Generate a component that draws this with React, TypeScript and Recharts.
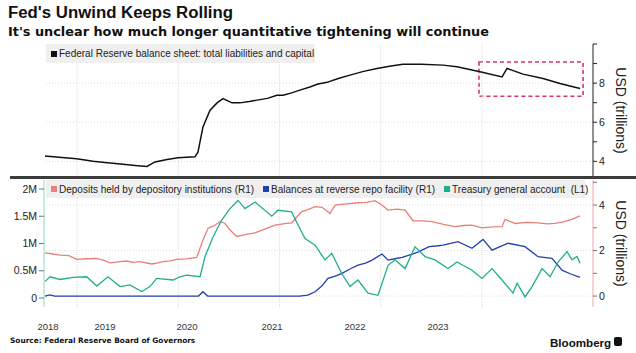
import React from 'react';
import { LineChart, Line, XAxis, YAxis, ReferenceLine, ReferenceArea, Legend } from 'recharts';

// ---------- axes / labels ----------
const X_DOMAIN: [number, number] = [2018.674, 2024.096];
const yearStarts = [2019, 2020, 2021, 2022, 2023];
const yearLabels = ['2018', '2019', '2020', '2021', '2022', '2023'];
const yearLabelPositions = [2018.714, 2019.277, 2020.086, 2020.926, 2021.746, 2022.565];

const topTicks = [4, 5, 6, 7, 8, 9, 10];
const topGrid = [4, 6, 8];
const bottomLeftTicks = [0, 0.5, 1, 1.5, 2];
const bottomRightTicks = [0, 1, 2, 3, 4, 5];
const bottomGrid = [0, 2, 4];

// highlight box (fractional year, trillions)
const highlightX = [2022.97, 2023.998];
const highlightY = [7.33, 9.08];

// ---------- series names ----------
const balanceName = 'Federal Reserve balance sheet: total liabilities and capital';
const depositName = 'Deposits held by depository institutions (R1)';
const rrpName = 'Balances at reverse repo facility (R1)';
const tgaName = 'Treasury general account  (L1)';
const legendOrder = [balanceName, depositName, rrpName, tgaName];

// ---------- Fed balance sheet (USD trillions) ----------
const balanceDates = [2018.684, 2018.85, 2018.997, 2019.158, 2019.3, 2019.454, 2019.6, 2019.691, 2019.77, 2019.889, 2019.998,
  2020.165, 2020.195, 2020.244, 2020.314, 2020.383, 2020.442, 2020.531, 2020.61, 2020.7, 2020.778, 2020.88, 2020.975, 2021.035,
  2021.12, 2021.202, 2021.3, 2021.38, 2021.469, 2021.58, 2021.696, 2021.83, 2021.963, 2022.1, 2022.22, 2022.4, 2022.615, 2022.753,
  2022.98, 2023.198, 2023.247, 2023.405, 2023.602, 2023.77, 2023.968];
const balanceValues = [4.27, 4.2, 4.13, 4.0, 3.93, 3.85, 3.78, 3.74, 3.97, 4.09, 4.19,
  4.23, 4.48, 5.76, 6.62, 6.99, 7.21, 6.99, 6.99, 7.06, 7.13, 7.22, 7.38, 7.38,
  7.5, 7.64, 7.8, 7.95, 8.04, 8.24, 8.41, 8.6, 8.75, 8.88, 8.97, 8.96, 8.92, 8.84,
  8.58, 8.32, 8.75, 8.46, 8.24, 7.98, 7.73];

// ---------- Deposits held by depository institutions (USD trillions, R1) ----------
const depositDates = [2018.684, 2018.75, 2018.832, 2018.92, 2018.997, 2019.1, 2019.195, 2019.26, 2019.326, 2019.4, 2019.491, 2019.56,
  2019.622, 2019.738, 2019.8, 2019.849, 2019.92, 2019.985, 2020.08, 2020.182, 2020.244, 2020.294, 2020.35, 2020.412, 2020.46,
  2020.511, 2020.577, 2020.66, 2020.758, 2020.86, 2020.956, 2021.05, 2021.121, 2021.219, 2021.28, 2021.351, 2021.42, 2021.499,
  2021.548, 2021.66, 2021.775, 2021.86, 2021.943, 2022.01, 2022.072, 2022.16, 2022.24, 2022.319, 2022.42, 2022.506, 2022.62,
  2022.733, 2022.82, 2022.901, 2023.0, 2023.1, 2023.198, 2023.227, 2023.326, 2023.44, 2023.553, 2023.64, 2023.721, 2023.8,
  2023.889, 2023.968];
const depositValues = [1.9, 1.86, 1.8, 1.78, 1.61, 1.64, 1.66, 1.58, 1.46, 1.5, 1.54, 1.48,
  1.51, 1.41, 1.46, 1.51, 1.55, 1.61, 1.63, 1.7, 2.46, 2.98, 3.08, 3.27, 3.2,
  2.9, 2.62, 2.7, 2.78, 2.95, 3.12, 3.18, 3.22, 3.71, 3.8, 3.93, 3.9, 3.63,
  4.0, 4.05, 4.1, 4.12, 4.19, 4.0, 3.78, 3.82, 3.78, 3.31, 3.3, 3.27, 3.15,
  3.05, 3.1, 3.12, 3.0, 3.04, 3.05, 3.37, 3.19, 3.24, 3.22, 3.17, 3.19, 3.26,
  3.37, 3.52];

// ---------- Balances at reverse repo facility (USD trillions, R1) ----------
const rrpDates = [2018.684, 2018.73, 2018.78, 2019.5, 2020.2, 2020.244, 2020.29, 2021.2, 2021.28, 2021.351, 2021.42, 2021.479,
  2021.55, 2021.617, 2021.7, 2021.775, 2021.85, 2021.914, 2022.012, 2022.072, 2022.14, 2022.21, 2022.319, 2022.378, 2022.477,
  2022.55, 2022.615, 2022.763, 2022.901, 2023.01, 2023.099, 2023.257, 2023.425, 2023.553, 2023.691, 2023.79, 2023.87, 2023.968];
const rrpValues = [0.0, 0.05, 0.0, 0.0, 0.0, 0.19, 0.0, 0.0, 0.04, 0.19, 0.45, 0.78,
  0.88, 1.0, 1.2, 1.36, 1.45, 1.58, 1.85, 1.58, 1.64, 1.7, 1.85, 1.95, 2.17,
  2.2, 2.24, 2.39, 2.1, 2.49, 2.02, 2.32, 2.17, 1.73, 1.66, 1.14, 0.98, 0.82];

// ---------- Treasury general account (USD millions, L1) ----------
const tgaDates = [2018.684, 2018.733, 2018.832, 2018.96, 2019.096, 2019.195, 2019.306, 2019.425, 2019.523, 2019.639, 2019.721,
  2019.787, 2019.948, 2020.017, 2020.083, 2020.215, 2020.264, 2020.343, 2020.429, 2020.511, 2020.59, 2020.659, 2020.758,
  2020.923, 2020.985, 2021.12, 2021.183, 2021.252, 2021.351, 2021.449, 2021.516, 2021.614, 2021.696, 2021.775, 2021.874,
  2021.973, 2022.072, 2022.141, 2022.24, 2022.338, 2022.437, 2022.536, 2022.664, 2022.753, 2022.901, 2023.0, 2023.099,
  2023.198, 2023.306, 2023.346, 2023.425, 2023.494, 2023.593, 2023.672, 2023.751, 2023.84, 2023.889, 2023.938, 2023.968];
const tgaValues = [0.3, 0.39, 0.34, 0.38, 0.39, 0.22, 0.39, 0.21, 0.24, 0.12, 0.21,
  0.36, 0.33, 0.39, 0.42, 0.39, 0.76, 1.12, 1.43, 1.64, 1.79, 1.64, 1.76,
  1.5, 1.61, 1.58, 1.34, 1.09, 0.97, 0.7, 0.82, 0.45, 0.21, 0.33, 0.09,
  0.05, 0.6, 0.7, 0.54, 0.94, 0.76, 0.7, 0.54, 0.66, 0.51, 0.36, 0.54,
  0.33, 0.09, 0.27, 0.02, 0.21, 0.54, 0.39, 0.66, 0.85, 0.7, 0.76, 0.64];

const toData = (dates: number[], values: number[]) => dates.map((t, i) => ({ t, v: values[i] }));
const balanceData = toData(balanceDates, balanceValues);
const depositData = toData(depositDates, depositValues);
const rrpData = toData(rrpDates, rrpValues);
const tgaData = toData(tgaDates, tgaValues);

// ---------- styles ----------
const SANS = '"Liberation Sans", Arial, sans-serif';
const DEJA = '"DejaVu Sans", Verdana, sans-serif';
const BLACK = '#111111';
const RED = '#ea7f78';
const BLUE = '#2140b0';
const TEAL = '#1faf8b';
const GRID = '#dcdcdc';

const LegendBox = (props: any) => {
  const payload = [...(props.payload || [])].sort(
    (a: any, b: any) => legendOrder.indexOf(a.value) - legendOrder.indexOf(b.value)
  );
  return (
    <div style={{ display: 'flex', alignItems: 'center', height: '100%', paddingLeft: 5, fontFamily: SANS, fontSize: 10, color: '#222', whiteSpace: 'pre', boxSizing: 'border-box' }}>
      {payload.map((p: any, i: number) => (
        <span key={i} style={{ display: 'flex', alignItems: 'center', marginRight: 9 }}>
          <span style={{ width: 6, height: 6, background: p.color, marginRight: 2, display: 'inline-block' }} />
          {p.value}
        </span>
      ))}
    </div>
  );
};

const axisTitle = (props: any) => {
  const vb = props.viewBox || {};
  const cx = vb.x + 28;
  const cy = vb.y + vb.height / 2;
  return (
    <text x={cx} y={cy} transform={`rotate(90, ${cx}, ${cy})`} textAnchor="middle" dominantBaseline="central"
      fontFamily={SANS} fontSize={14} fill="#222">USD (trillions)</text>
  );
};

const evenLabel = (v: number) => (v % 2 === 0 && v < 5 ? String(v) : '');
const evenLabelTop = (v: number) => (v % 2 === 0 && v < 10 ? String(v) : '');

export default function App() {
  return (
    <div style={{ position: 'absolute', left: 0, top: 0, width: 636, height: 353, background: '#fff', overflow: 'hidden' }}>
      <div style={{ position: 'absolute', left: 8, top: 4.5, fontFamily: SANS, fontWeight: 700, fontSize: 16.8, lineHeight: 1, color: '#111', whiteSpace: 'nowrap' }}>
        Fed's Unwind Keeps Rolling
      </div>
      <div style={{ position: 'absolute', left: 8, top: 25.5, fontFamily: DEJA, fontWeight: 700, fontSize: 12.85, lineHeight: 1, color: '#111', whiteSpace: 'nowrap' }}>
        It's unclear how much longer quantitative tightening will continue
      </div>

      {/* top panel */}
      <div style={{ position: 'absolute', left: 0, top: 0 }}>
        <LineChart width={636} height={178} margin={{ top: 44, right: 0, bottom: 1, left: 44 }}>
          <XAxis type="number" dataKey="t" domain={X_DOMAIN} allowDataOverflow hide />
          <YAxis yAxisId="L" orientation="left" width={0} domain={[3.2, 10]} tick={false} tickLine={false} axisLine={{ stroke: '#c4c4c4' }} />
          <YAxis yAxisId="R" orientation="right" width={43} domain={[3.2, 10]} allowDataOverflow ticks={topTicks} interval={0}
            tickFormatter={evenLabelTop} tickSize={4} tickMargin={2}
            axisLine={{ stroke: '#222' }} tickLine={{ stroke: '#222' }}
            tick={{ fontSize: 10.5, fill: '#222', fontFamily: SANS }} label={axisTitle} />
          {topGrid.map((g) => (
            <ReferenceLine key={'tg' + g} yAxisId="R" y={g} stroke={GRID} strokeDasharray="1 2" />
          ))}
          {yearStarts.map((y) => (
            <ReferenceLine key={'tv' + y} yAxisId="R" x={y} stroke={GRID} strokeDasharray="1 1" />
          ))}
          <ReferenceArea yAxisId="R" x1={highlightX[0]} x2={highlightX[1]} y1={highlightY[0]} y2={highlightY[1]}
            fill="none" stroke="#d6385c" strokeWidth={1.6} strokeDasharray="4 3" ifOverflow="visible" />
          <Line yAxisId="R" data={balanceData} dataKey="v" name={balanceName}
            stroke={BLACK} strokeWidth={1.5} dot={false} isAnimationActive={false} />
          <Legend layout="horizontal" verticalAlign="middle" align="center" content={<LegendBox />}
            wrapperStyle={{ left: 46, top: 44, width: 269, height: 19, background: '#efefef', margin: 0, padding: 0 }} />
        </LineChart>
      </div>

      <div style={{ position: 'absolute', left: 10, top: 176, width: 626, height: 3, background: '#3c3c3c' }} />

      {/* bottom panel */}
      <div style={{ position: 'absolute', left: 0, top: 178 }}>
        <LineChart width={636} height={175} margin={{ top: 2, right: 0, bottom: 16, left: 0 }}>
          <XAxis type="number" dataKey="t" domain={X_DOMAIN} allowDataOverflow ticks={yearLabelPositions} interval={0}
            tickFormatter={(v: number) => yearLabels[yearLabelPositions.indexOf(v)] ?? ''}
            axisLine={false} tickLine={false} tickSize={0} tickMargin={16} height={30}
            tick={{ fontSize: 9.5, fill: '#333', fontFamily: SANS }} />
          <YAxis yAxisId="L" orientation="left" width={44} domain={[-0.165, 2.165]} allowDataOverflow ticks={bottomLeftTicks} interval={0}
            tickFormatter={(v: number) => (v === 0 ? '0' : `${v}M`)} tickSize={5} tickMargin={2}
            axisLine={{ stroke: '#8ed9c6' }} tickLine={{ stroke: '#777' }}
            tick={{ fontSize: 10.5, fill: '#222', fontFamily: SANS }} />
          <YAxis yAxisId="R" orientation="right" width={43} domain={[-0.48, 5.1]} allowDataOverflow ticks={bottomRightTicks} interval={0}
            tickFormatter={evenLabel} tickSize={4} tickMargin={2}
            axisLine={{ stroke: '#f3a7a7' }} tickLine={{ stroke: '#777' }}
            tick={{ fontSize: 10.5, fill: '#222', fontFamily: SANS }} label={axisTitle} />
          {bottomGrid.map((g) => (
            <ReferenceLine key={'bg' + g} yAxisId="R" y={g} stroke={GRID} strokeDasharray="1 2" />
          ))}
          {yearStarts.map((y) => (
            <ReferenceLine key={'bv' + y} yAxisId="R" x={y} stroke={GRID} strokeDasharray="1 1" />
          ))}
          <Line yAxisId="R" data={depositData} dataKey="v" name={depositName}
            stroke={RED} strokeWidth={1.3} dot={false} isAnimationActive={false} />
          <Line yAxisId="R" data={rrpData} dataKey="v" name={rrpName}
            stroke={BLUE} strokeWidth={1.3} dot={false} isAnimationActive={false} />
          <Line yAxisId="L" data={tgaData} dataKey="v" name={tgaName}
            stroke={TEAL} strokeWidth={1.3} dot={false} isAnimationActive={false} />
          <Legend layout="horizontal" verticalAlign="middle" align="center" content={<LegendBox />}
            wrapperStyle={{ left: 46, top: 2, width: 539, height: 18, background: '#efefef', margin: 0, padding: 0 }} />
        </LineChart>
      </div>

      <div style={{ position: 'absolute', left: 10, top: 337.4, fontFamily: DEJA, fontWeight: 700, fontSize: 7.4, lineHeight: 1, color: '#111', whiteSpace: 'nowrap' }}>
        Source: Federal Reserve Board of Governors
      </div>
      <div style={{ position: 'absolute', left: 550, top: 336.5, fontFamily: SANS, fontWeight: 700, fontSize: 11.6, lineHeight: 1, color: '#111', whiteSpace: 'nowrap' }}>
        Bloomberg
      </div>
      <div style={{ position: 'absolute', left: 614, top: 337, width: 8, height: 9, background: '#111', borderRadius: 2 }} />
    </div>
  );
}
